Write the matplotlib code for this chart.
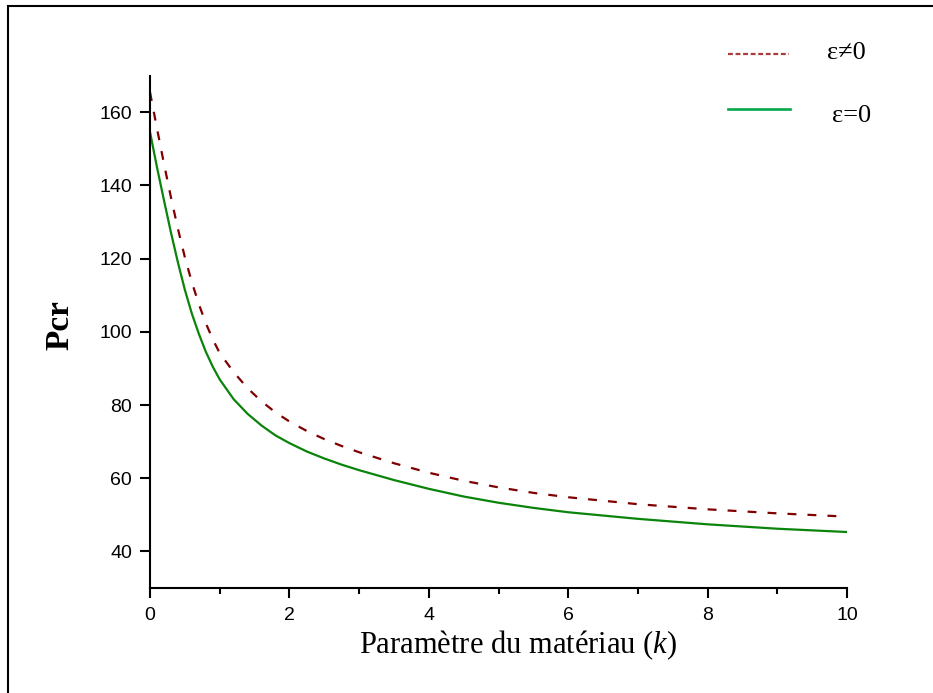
import matplotlib
matplotlib.use("Agg")
import matplotlib.pyplot as plt
from matplotlib.lines import Line2D
from matplotlib.patches import Rectangle
from matplotlib.ticker import MultipleLocator

plt.rcParams['mathtext.fontset'] = 'custom'
plt.rcParams['mathtext.rm'] = 'Liberation Serif'
plt.rcParams['mathtext.it'] = 'Liberation Serif:italic'

# Material parameter k
k_values = [0, 0.1, 0.2, 0.3, 0.4, 0.5, 0.6, 0.7, 0.8, 0.9, 1.0, 1.2, 1.4,
            1.6, 1.8, 2.0, 2.25, 2.5, 2.75, 3.0, 3.5, 4.0, 4.5, 5.0, 5.5,
            6.0, 7.0, 8.0, 9.0, 10.0]
# Critical buckling load with the epsilon term (eps != 0)
pcr_eps_nonzero = [165.5, 155.6, 146.0, 136.8, 128.2, 120.4, 113.6, 107.6,
                   102.4, 98.0, 94.2, 89.0, 84.6, 81.0, 78.0, 75.5, 72.9,
                   70.7, 68.8, 67.1, 64.1, 61.5, 59.3, 57.5, 56.0, 54.8,
                   52.9, 51.5, 50.4, 49.5]
# Critical buckling load without the epsilon term (eps = 0)
pcr_eps_zero = [154.6, 145.0, 136.0, 127.2, 119.0, 111.5, 105.0, 99.5,
                94.6, 90.5, 87.0, 81.6, 77.6, 74.4, 71.7, 69.6, 67.3,
                65.4, 63.7, 62.2, 59.5, 57.1, 55.0, 53.3, 51.9, 50.7,
                48.9, 47.4, 46.2, 45.3]

x_ticks = [0, 2, 4, 6, 8, 10]
y_ticks = [40, 60, 80, 100, 120, 140, 160]
legend_labels = ["ε≠0", "ε=0"]

W, H = 933, 693
fig = plt.figure(figsize=(W / 100, H / 100), dpi=100)
fig.patch.set_facecolor("white")


def fx(px):
    return px / W


def fy(py):
    return 1 - py / H


# page frame
fig.add_artist(Rectangle((fx(8), -0.2), 1.5, 1.2 - 6 / H,
                         transform=fig.transFigure, fill=False,
                         edgecolor="black", linewidth=1.5))

ax = fig.add_axes([fx(150), fy(588), (847 - 150) / W, (588 - 75.7) / H])

ax.plot(k_values, pcr_eps_nonzero, color="#800000", linewidth=1.6,
        dashes=(4, 5))
ax.plot(k_values, pcr_eps_zero, color="#0a840a", linewidth=1.6)

ax.set_xlim(0, 10)
ax.set_ylim(30, 170)
ax.set_xticks(x_ticks)
ax.set_yticks(y_ticks)
ax.xaxis.set_minor_locator(MultipleLocator(1))

for side in ("top", "right"):
    ax.spines[side].set_visible(False)
for side in ("left", "bottom"):
    ax.spines[side].set_linewidth(1.5)

ax.tick_params(axis="both", which="major", direction="out", length=7,
               width=1.5, labelsize=14)
ax.tick_params(axis="x", which="minor", direction="out", length=4, width=1.5)
ax.tick_params(axis="x", which="major", pad=7)
ax.tick_params(axis="y", which="major", pad=6)
for lbl in ax.get_xticklabels() + ax.get_yticklabels():
    lbl.set_fontfamily("Liberation Sans")

ax.set_ylabel("Pcr", fontfamily="Liberation Serif", fontweight="bold",
              fontsize=24, va="center")
ax.yaxis.set_label_coords((60 - 150) / 697, (588 - 325) / (588 - 75.7))

ax.set_xlabel("Paramètre du matériau ($\\mathit{k}$)",
              fontfamily="Liberation Serif", fontsize=22, va="center")
ax.xaxis.set_label_coords((518 - 150) / 697, -(645 - 588) / (588 - 75.7))

# legend drawn in figure coordinates
legend_font = {"family": ["Liberation Serif", "DejaVu Serif"], "size": 19}
fig.add_artist(Line2D([fx(728), fx(789)], [fy(54), fy(54)],
                      transform=fig.transFigure, color="#a83c3c",
                      linewidth=1.6, dashes=(2.2, 1.2)))
fig.add_artist(Line2D([fx(728), fx(790)], [fy(109), fy(109)],
                      transform=fig.transFigure, color="#00a84a",
                      linewidth=1.9))
fig.text(fx(827), fy(53), legend_labels[0], ha="left", va="center",
         fontdict=legend_font)
fig.text(fx(832), fy(116), legend_labels[1], ha="left", va="center",
         fontdict=legend_font)

fig.savefig("out.png", dpi=100)
